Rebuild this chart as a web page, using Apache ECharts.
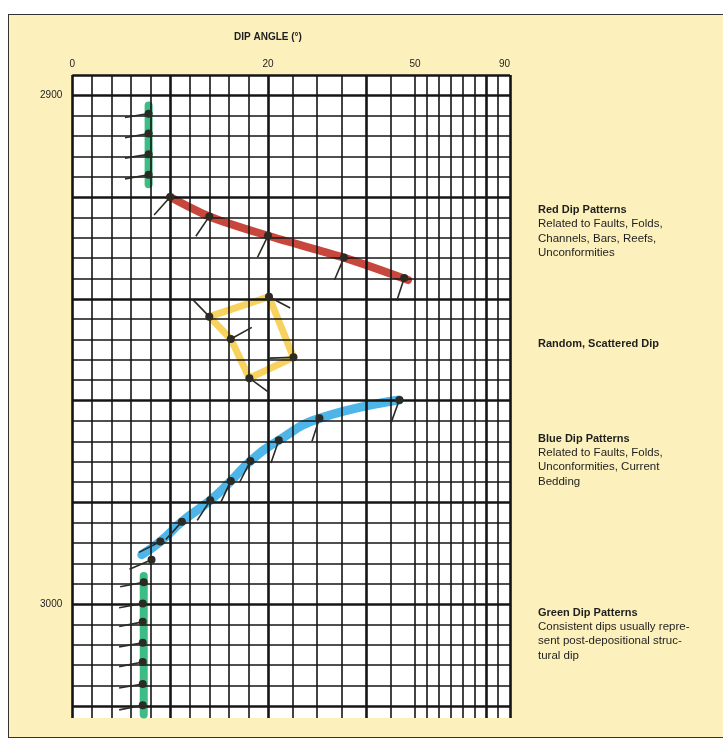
<!DOCTYPE html>
<html>
<head>
<meta charset="utf-8">
<script src="https://cdn.jsdelivr.net/npm/echarts@6/dist/echarts.min.js"></script>
<style>
html,body{margin:0;padding:0;background:#fff;overflow:hidden;}
#frame{position:absolute;left:8px;top:14px;width:730px;height:722px;background:#fcf0bc;border:1.5px solid #333;}
#chart{position:absolute;left:0;top:0;width:723px;height:741px;}
</style>
</head>
<body>
<div id="frame"></div>
<div id="chart"></div>
<script>
/* =================================
   dip angle scale (piecewise: 0-20, 20-50, 50-90)
================================= */
const scaleDip=[0,20,50,90];
const scaleUnit=[0,195.7,342.7,437.7];

function toU(d){
  for(let i=1;i<scaleDip.length;i++){
    if(d<=scaleDip[i]||i==scaleDip.length-1){
      let t=(d-scaleDip[i-1])/(scaleDip[i]-scaleDip[i-1]);
      return scaleUnit[i-1]+t*(scaleUnit[i]-scaleUnit[i-1]);
    }
  }
}

/* grid + ticks */
const dipGrid=[0,2,4,6,8,10,12,14,16,18,20,25,30,35,40,45,50,55,60,65,70,75,80,85,90];
const dipBold=[0,10,20,40,80,90];
const dipLabels=[0,20,50,90];
const depthTop=2896, depthBottom=3022.4, depthStep=4;
const depthBold=[2896,2900,2920,2940,2960,2980,3000,3020];
const depthLabels=[2900,3000];

/* =================================
   tadpoles: depth (ft), dip (deg), azimuth (deg)
================================= */
const greenTopDepth=[2903.6,2907.5,2911.6,2915.6];
const greenTopDip=[7.8,7.8,7.8,7.8];
const greenTopAz=[261,260,261,260];
const greenTopBandDepth=[2902,2917.5];
const greenTopBandDip=[7.8,7.8];

const redDepth=[2920,2923.8,2927.6,2931.9,2935.9];
const redDip=[10,14,20,35.5,47.8];
const redAz=[222,214,206,203,198];
const redBandDepth=[2920,2923.8,2927.6,2931.9,2936.3];
const redBandDip=[10,14,20,35.5,48.6];

const yellowDepth=[2939.6,2943.5,2947.9,2951.5,2955.6];
const yellowDip=[20.2,14.0,16.2,25.2,18.1];
const yellowAz=[118,316,61,268,126];
// loop: left, top, right, bottom, middle, left
const yellowLoopDepth=[2943.5,2939.6,2951.5,2955.6,2947.9,2943.5];
const yellowLoopDip=[14.0,20.2,25.2,18.1,16.2,14.0];

const blueDepth=[2959.9,2963.5,2967.8,2971.9,2975.8,2979.6,2983.8,2987.7,2991.3];
const blueDip=[46.8,30.5,22.2,18.2,16.2,14.1,11.2,9.0,8.1];
const blueAz=[200,198,199,207,205,213,222,243,247];
const blueBandDepth=[2959.9,2963.5,2967.8,2971.9,2975.8,2979.6,2983.8,2987.7,2990.3];
const blueBandDip=[46.8,30.5,22.2,18.2,16.2,14.1,11.2,9.0,7.1];

const greenLowDepth=[2995.7,2999.9,3003.5,3007.6,3011.4,3015.7,3019.9];
const greenLowDip=[7.3,7.2,7.2,7.2,7.2,7.2,7.2];
const greenLowAz=[259,260,259,260,259,260,259];
const greenLowBandDepth=[2994.5,3021.7];
const greenLowBandDip=[7.3,7.3];

/* legend notes */
const notes=[
  ["Red Dip Patterns",["Related to Faults, Folds,","Channels, Bars, Reefs,","Unconformities"],210],
  ["Random, Scattered Dip",[],344],
  ["Blue Dip Patterns",["Related to Faults, Folds,","Unconformities, Current","Bedding"],438.5],
  ["Green Dip Patterns",["Consistent dips usually repre-","sent post-depositional struc-","tural dip"],612.5]
];

const tailLen=24;
const ink="#2b2a25";
const font="'Liberation Sans', Arial, sans-serif";

function pts(dips,depths){
  return dips.map((d,i)=>[toU(d),depths[i]]);
}

function tadpoles(dips,depths,az){
  return dips.map((d,i)=>[toU(d),depths[i],az[i]]);
}

function renderTadpole(params,api){
  let p=api.coord([api.value(0),api.value(1)]);
  let a=api.value(2)*Math.PI/180;
  return {
    type:"group",
    children:[
      {type:"line",shape:{x1:p[0],y1:p[1],x2:p[0]+tailLen*Math.sin(a),y2:p[1]-tailLen*Math.cos(a)},
       style:{stroke:ink,lineWidth:1.6}},
      {type:"circle",shape:{cx:p[0],cy:p[1],r:4},style:{fill:ink}}
    ]
  };
}

function band(name,data,color,width,smooth){
  return {
    name:name,type:"line",data:data,smooth:smooth,showSymbol:false,z:3,
    lineStyle:{color:color,width:width,cap:"round",join:"round"},
    silent:true,animation:false
  };
}

/* grid lines */
let gridLines=[];
dipGrid.forEach(d=>{
  gridLines.push({xAxis:toU(d),lineStyle:{width:dipBold.includes(d)?2.6:1.6}});
});
for(let y=depthTop;y<=3020;y+=depthStep){
  gridLines.push({yAxis:y,lineStyle:{width:depthBold.includes(y)?2.6:1.6}});
}

let graphics=[
  {type:"text",x:268,y:37,style:{text:"DIP ANGLE (°)",font:"bold 10px "+font,fill:"#1e1e1e",align:"center",verticalAlign:"middle"}}
];
notes.forEach(n=>{
  graphics.push({type:"text",x:538,y:n[2],style:{text:n[0],font:"bold 11px "+font,fill:"#1e1e1e",verticalAlign:"middle"}});
  if(n[1].length){
    graphics.push({type:"text",x:538,y:n[2]+7.1,style:{text:n[1].join("\n"),font:"11.5px "+font,lineHeight:14.4,fill:"#1e1e1e",verticalAlign:"top"}});
  }
});

let chart=echarts.init(document.getElementById("chart"));

chart.setOption({
  backgroundColor:"transparent",
  animation:false,
  grid:{left:72.3,right:213,top:75,bottom:23,show:true,backgroundColor:"#fff",borderWidth:0},
  xAxis:{
    type:"value",position:"top",min:0,max:scaleUnit[scaleUnit.length-1],
    axisLine:{show:false},axisTick:{show:false},splitLine:{show:false},
    axisLabel:{
      customValues:dipLabels.map(toU),
      formatter:v=>{
        let i=dipLabels.findIndex(d=>Math.abs(toU(d)-v)<0.01);
        return i<0?"":String(dipLabels[i]);
      },
      alignMaxLabel:"right",
      fontFamily:"Liberation Sans",fontSize:10,color:"#1e1e1e",margin:6
    }
  },
  yAxis:{
    type:"value",inverse:true,min:depthTop,max:depthBottom,
    axisLine:{show:false},axisTick:{show:false},splitLine:{show:false},
    axisLabel:{customValues:depthLabels,formatter:v=>String(v),fontFamily:"Liberation Sans",fontSize:10,color:"#1e1e1e",margin:10}
  },
  graphic:graphics,
  series:[
    {
      name:"grid",type:"line",data:[],z:1,silent:true,
      markLine:{
        silent:true,symbol:["none","none"],label:{show:false},animation:false,
        lineStyle:{color:"#151515",type:"solid"},
        data:gridLines
      }
    },
    band("greenTop",pts(greenTopBandDip,greenTopBandDepth),"#3dbd84",8,false),
    band("red",pts(redBandDip,redBandDepth),"#c8473c",8,0.3),
    band("yellow",pts(yellowLoopDip,yellowLoopDepth),"#f8d25e",7,false),
    band("blue",pts(blueBandDip,blueBandDepth),"#4db5e8",9,0.5),
    band("greenLow",pts(greenLowBandDip,greenLowBandDepth),"#3dbd84",8,false),
    {
      name:"tadpoles",type:"custom",z:5,silent:true,
      renderItem:renderTadpole,
      encode:{x:0,y:1},
      data:[].concat(
        tadpoles(greenTopDip,greenTopDepth,greenTopAz),
        tadpoles(redDip,redDepth,redAz),
        tadpoles(yellowDip,yellowDepth,yellowAz),
        tadpoles(blueDip,blueDepth,blueAz),
        tadpoles(greenLowDip,greenLowDepth,greenLowAz)
      )
    }
  ]
});
</script>
</body>
</html>
